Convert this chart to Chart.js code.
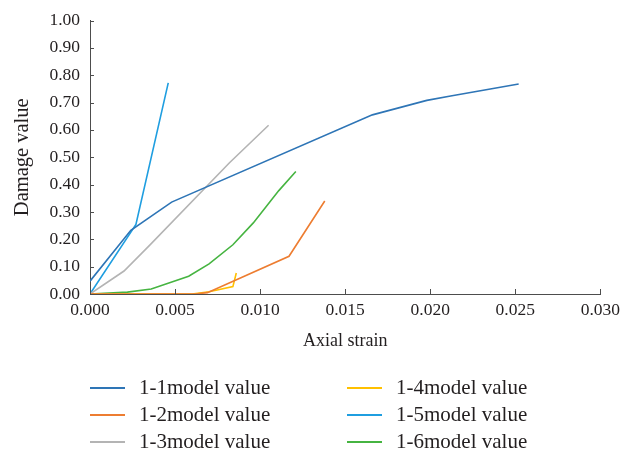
<!DOCTYPE html>
<html lang="en">
<head>
  <meta charset="UTF-8" />
  <title>Damage value vs axial strain</title>
  <script src="https://cdn.jsdelivr.net/npm/chart.js"></script>
  <style>
    body {
      margin: 0;
      background: #ffffff;
      font-family: "Liberation Serif", "DejaVu Serif", serif;
      color: #231f20;
    }
    .wrap {
      position: relative;
      width: 626px;
      height: 455px;
    }
    #legend {
      position: absolute;
      left: 0;
      top: 374px;
      width: 626px;
      font-size: 21px;
    }
    .item {
      position: absolute;
      height: 27px;
      line-height: 27px;
      white-space: nowrap;
    }
    .item .swatch {
      position: absolute;
      left: 0;
      top: 13px;
      width: 35px;
      height: 1.5px;
    }
    .item .txt {
      position: absolute;
      left: 49px;
    }
  </style>
</head>
<body>

<div class="wrap">
  <canvas id="damageChart" width="626" height="455"></canvas>
  <div id="legend"></div>
</div>

<script>
// series: axial strain (x) and damage value (y)
const names = ['1-1model value', '1-2model value', '1-3model value',
               '1-4model value', '1-5model value', '1-6model value'];
const colors = ['#2e75b6', '#ed7d31', '#b4b4b4', '#ffc000', '#1f9ee0', '#46b441'];

const s11x = [0, 0.0024, 0.0038, 0.0048, 0.0166, 0.0198, 0.0212, 0.0252];
const s11y = [0.047, 0.233, 0.293, 0.336, 0.655, 0.708, 0.724, 0.768];

const s12x = [0, 0.0062, 0.0069, 0.0117, 0.0138];
const s12y = [0, 0, 0.005, 0.138, 0.340];

const s13x = [0, 0.0020, 0.0035, 0.0082, 0.0105];
const s13y = [0, 0.084, 0.178, 0.480, 0.617];

const s14x = [0, 0.0060, 0.0070, 0.0084, 0.0086];
const s14y = [0, 0, 0.008, 0.027, 0.077];

const s15x = [0, 0.0027, 0.0046];
const s15y = [0, 0.254, 0.772];

const s16x = [0, 0.0022, 0.0036, 0.0058, 0.0070, 0.0084, 0.0096, 0.0111, 0.0121];
const s16y = [0, 0.007, 0.018, 0.065, 0.110, 0.180, 0.260, 0.378, 0.448];

const xTicksMin = 0, xTicksMax = 0.03, xStep = 0.005;
const yTicksMin = 0, yTicksMax = 1, yStep = 0.1;

const xs = [s11x, s12x, s13x, s14x, s15x, s16x];
const ys = [s11y, s12y, s13y, s14y, s15y, s16y];

const FONT = '"Liberation Serif", "DejaVu Serif", serif';
const TEXT = '#231f20';
const AXIS = '#4d4d4d';

const datasets = names.map((name, i) => ({
  label: name,
  data: xs[i].map((x, j) => ({ x: x, y: ys[i][j] })),
  borderColor: colors[i],
  backgroundColor: colors[i],
  borderWidth: 1.6,
  pointRadius: 0,
  showLine: true,
  tension: 0,
  fill: false
}));

// short tick marks pointing into the plot area
const innerTicks = {
  id: 'innerTicks',
  afterDatasetsDraw(chart) {
    const c = chart.ctx;
    const xs_ = chart.scales.x, ys_ = chart.scales.y;
    c.save();
    c.strokeStyle = AXIS;
    c.lineWidth = 1;
    c.beginPath();
    ys_.ticks.forEach(t => {
      const p = Math.round(ys_.getPixelForValue(t.value)) + 0.5;
      c.moveTo(xs_.left, p);
      c.lineTo(xs_.left + 4, p);
    });
    xs_.ticks.forEach(t => {
      const p = Math.round(xs_.getPixelForValue(t.value)) + 0.5;
      c.moveTo(p, ys_.bottom);
      c.lineTo(p, ys_.bottom - 5);
    });
    c.stroke();
    c.restore();
  }
};

const ctx = document.getElementById('damageChart').getContext('2d');
const chart = new Chart(ctx, {
  type: 'scatter',
  data: { datasets: datasets },
  plugins: [innerTicks],
  options: {
    responsive: false,
    animation: false,
    layout: { padding: { top: 19, right: 24, bottom: 101, left: 0 } },
    plugins: {
      legend: { display: false },
      tooltip: { enabled: false }
    },
    scales: {
      x: {
        type: 'linear',
        min: xTicksMin,
        max: xTicksMax,
        afterFit: axis => { axis.height = 60; },
        ticks: {
          stepSize: xStep,
          padding: 6,
          color: TEXT,
          font: { family: FONT, size: 17.5 },
          callback: v => Number(v).toFixed(3)
        },
        grid: { drawOnChartArea: false, drawTicks: false },
        border: { display: true, color: AXIS, width: 1 },
        title: {
          display: true,
          text: 'Axial strain',
          color: TEXT,
          font: { family: FONT, size: 18 },
          padding: { top: 0, bottom: 2 }
        }
      },
      y: {
        type: 'linear',
        min: yTicksMin,
        max: yTicksMax,
        afterFit: axis => { axis.width = 90; },
        ticks: {
          stepSize: yStep,
          padding: 10,
          color: TEXT,
          font: { family: FONT, size: 17.5 },
          callback: v => Number(v).toFixed(2)
        },
        grid: { drawOnChartArea: false, drawTicks: false },
        border: { display: true, color: AXIS, width: 1 },
        title: {
          display: true,
          text: 'Damage value',
          color: TEXT,
          font: { family: FONT, size: 20.5 },
          padding: { top: 10, bottom: 0 }
        }
      }
    }
  }
});

// legend in two columns, filled top to bottom
const legend = document.getElementById('legend');
const colX = [90, 347];
chart.data.datasets.forEach((ds, i) => {
  const item = document.createElement('div');
  item.className = 'item';
  item.style.left = colX[Math.floor(i / 3)] + 'px';
  item.style.top = (i % 3) * 27 + 'px';
  const sw = document.createElement('div');
  sw.className = 'swatch';
  sw.style.background = ds.borderColor;
  const tx = document.createElement('span');
  tx.className = 'txt';
  tx.textContent = ds.label;
  item.appendChild(sw);
  item.appendChild(tx);
  legend.appendChild(item);
});
</script>

</body>
</html>
